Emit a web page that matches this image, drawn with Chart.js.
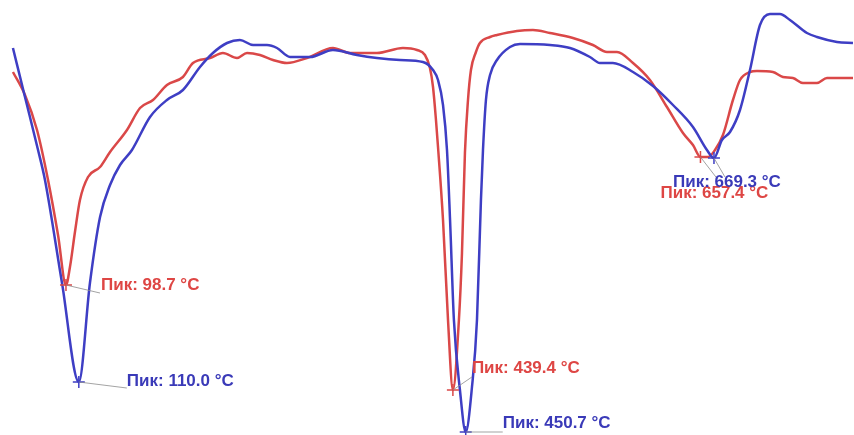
<!DOCTYPE html>
<html>
<head>
<meta charset="utf-8">
<style>
html,body{margin:0;padding:0;background:#fff;}
#wrap{width:854px;height:435px;position:relative;}
</style>
</head>
<body>
<div id="wrap"><canvas id="c" width="854" height="435"></canvas></div>
<script src="https://cdn.jsdelivr.net/npm/chart.js@4/dist/chart.umd.min.js"></script>
<script>
// Temperature (°C) and DSC signal (arbitrary units) for the two runs
const redTemps = [52.0,62.6,73.2,82.9,91.7,98.7,102.2,106.6,111.0,118.1,128.7,137.5,152.4,163.9,175.3,187.6,201.7,210.5,225.5,236.9,249.3,258.1,269.5,281.0,293.3,310.9,333.8,348.8,372.5,395.4,407.8,414.8,419.2,421.9,424.5,426.3,430.7,435.1,439.4,444.7,447.4,450.0,452.7,455.3,459.7,463.2,472.1,478.2,495.8,509.9,524.9,545.1,562.7,575.1,583.9,598.0,612.9,627.9,642.0,650.8,657.4,664.0,670.2,677.2,686.0,692.2,701.0,707.1,721.2,730.0,738.8,747.6,760.0,768.8,791.7];
const redSignal = [363,340,305,255,200,150,168,203,235,258,268,283,305,327,335,350,358,372,377,382,377,382,380,375,372,377,387,382,382,387,385,380,367,348,315,288,215,115,45,115,182,282,335,365,383,392,398,400,404,405,402,397,390,383,383,372,355,328,302,290,278,278,285,300,335,355,363,364,363,358,357,352,352,357,357];

const blueTemps = [52.0,62.6,74.1,80.2,95.2,110.0,119.8,128.7,137.5,146.3,156.8,172.7,187.6,201.7,216.7,228.1,240.5,251.9,263.4,275.7,284.5,296.0,313.6,333.8,354.9,372.5,392.8,413.0,421.9,426.3,430.7,434.2,436.9,440.3,445.6,450.7,456.2,460.6,464.1,465.9,468.5,472.1,478.2,489.7,498.5,524.9,542.5,560.1,568.9,580.3,598.0,615.6,633.2,650.8,663.1,669.3,676.3,683.4,692.2,701.0,709.8,718.6,727.4,736.2,751.2,760.0,777.6,791.7];
const blueSignal = [387,338,285,255,152,53,152,218,250,270,285,318,335,345,368,382,392,395,390,390,387,378,378,385,380,377,375,373,365,355,330,285,215,115,45,3,48,115,235,285,335,360,375,388,391,390,387,378,372,372,363,349,330,308,285,277,295,303,325,365,410,421,421,415,402,398,393,392];

// Peaks
const peakTemps  = [98.7, 110.0, 439.4, 450.7, 657.4, 669.3];
const peakSignal = [150, 53, 45, 3, 278, 277];
const peakSeries = ['red','blue','red','blue','red','blue'];
const peakLabels = ['Пик: 98.7 °C','Пик: 110.0 °C','Пик: 439.4 °C','Пик: 450.7 °C','Пик: 657.4 °C','Пик: 669.3 °C'];

const COLORS = {
  red:  {line:'rgb(218,72,72)', text:'rgb(222,70,68)'},
  blue: {line:'rgb(62,62,196)', text:'rgb(58,58,184)'}
};

const toXY = (xs, ys) => xs.map((x, i) => ({x: x, y: ys[i]}));

// label layout: [lineEndDx, lineEndDy, textDx, textDy]
const labelLayout = [
  [34, 8, 35, 0],
  [48, 6, 48, -1],
  [19, -13, 19, -22],
  [37, 0, 37, -9],
  [17, 22, -40, 36],
  [11, 19, -41, 24]
];

const peakLabelPlugin = {
  id: 'peakLabels',
  afterDatasetsDraw(chart) {
    const ctx = chart.ctx;
    const xs = chart.scales.x, ys = chart.scales.y;
    ctx.save();
    peakTemps.forEach((t, i) => {
      const px = xs.getPixelForValue(t);
      const py = ys.getPixelForValue(peakSignal[i]);
      const L = labelLayout[i];
      ctx.strokeStyle = 'rgba(140,140,140,0.8)';
      ctx.lineWidth = 1;
      ctx.beginPath();
      ctx.moveTo(px, py);
      ctx.lineTo(px + L[0], py + L[1]);
      ctx.stroke();
    });
    ctx.font = 'bold 17px "Liberation Sans", Arial, sans-serif';
    ctx.textBaseline = 'middle';
    ctx.textAlign = 'left';
    peakTemps.forEach((t, i) => {
      const px = xs.getPixelForValue(t);
      const py = ys.getPixelForValue(peakSignal[i]);
      const L = labelLayout[i];
      ctx.fillStyle = COLORS[peakSeries[i]].text;
      ctx.fillText(peakLabels[i], px + L[2], py + L[3]);
    });
    ctx.restore();
  }
};

const redPeaks = [], bluePeaks = [];
peakTemps.forEach((t, i) => {
  (peakSeries[i] === 'red' ? redPeaks : bluePeaks).push({x: t, y: peakSignal[i]});
});

new Chart(document.getElementById('c'), {
  type: 'scatter',
  data: {
    datasets: [
      {
        data: toXY(redTemps, redSignal),
        showLine: true,
        borderColor: COLORS.red.line,
        borderWidth: 2.5,
        pointRadius: 0,
        cubicInterpolationMode: 'monotone',
        order: 3
      },
      {
        data: toXY(blueTemps, blueSignal),
        showLine: true,
        borderColor: COLORS.blue.line,
        borderWidth: 2.5,
        pointRadius: 0,
        cubicInterpolationMode: 'monotone',
        order: 2
      },
      {
        data: redPeaks,
        pointStyle: 'cross',
        pointRadius: 6,
        borderWidth: 1.5,
        borderColor: COLORS.red.line,
        backgroundColor: COLORS.red.line,
        clip: false,
        order: 1
      },
      {
        data: bluePeaks,
        pointStyle: 'cross',
        pointRadius: 6,
        borderWidth: 1.5,
        borderColor: COLORS.blue.line,
        backgroundColor: COLORS.blue.line,
        clip: false,
        order: 0
      }
    ]
  },
  options: {
    responsive: false,
    devicePixelRatio: 1,
    animation: false,
    layout: {padding: 0, autoPadding: false},
    scales: {
      x: {type: 'linear', min: 40.6, max: 792.6, display: false},
      y: {type: 'linear', min: 0, max: 435, display: false}
    },
    plugins: {
      legend: {display: false},
      tooltip: {enabled: false}
    },
    elements: {line: {fill: false}}
  },
  plugins: [peakLabelPlugin]
});
</script>
</body>
</html>
